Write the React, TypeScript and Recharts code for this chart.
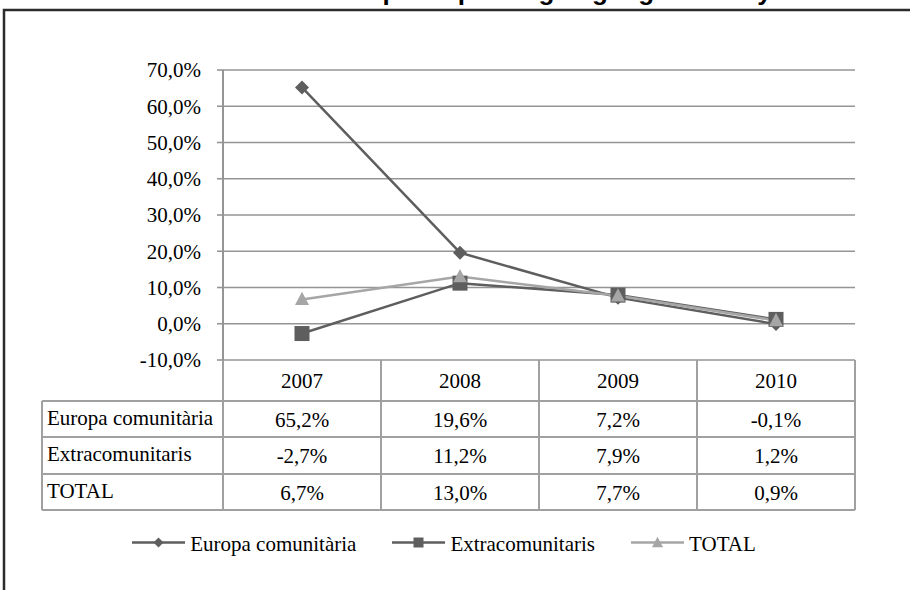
import { LineChart, Line, XAxis, YAxis, CartesianGrid, Legend } from 'recharts';

const years = ['2007', '2008', '2009', '2010'];
const europa = [65.2, 19.6, 7.2, -0.1];
const extra = [-2.7, 11.2, 7.9, 1.2];
const total = [6.7, 13.0, 7.7, 0.9];
const seriesNames = ['Europa comunitària', 'Extracomunitaris', 'TOTAL'];
const yTicks = [-10, 0, 10, 20, 30, 40, 50, 60, 70];

const data = years.map((year, i) => ({
  year,
  europa: europa[i],
  extra: extra[i],
  total: total[i],
}));
const rows = [europa, extra, total];

const W = 910;
const H = 590;
const PLOT_LEFT = 223;
const PLOT_RIGHT = 855;
const COL_W = (PLOT_RIGHT - PLOT_LEFT) / years.length;
const LABEL_LEFT = 42;
const ROW_EDGES = [0, 41, 77, 114, 150];

const SERIF = "'Liberation Serif', 'Times New Roman', serif";
const FONT = 21;
const GRID = '#959595';
const TABLE = '#a0a0a0';
const DARK = '#5e5e5e';
const LIGHT = '#a6a6a6';

const pct = (v: number) => `${v.toFixed(1).replace('.', ',')}%`;

function Diamond({ cx, cy, r = 7, fill = DARK }: any) {
  return <path d={`M${cx},${cy - r}L${cx + r},${cy}L${cx},${cy + r}L${cx - r},${cy}Z`} fill={fill} />;
}
function Square({ cx, cy, s = 15, fill = DARK }: any) {
  return <rect x={cx - s / 2} y={cy - s / 2} width={s} height={s} fill={fill} />;
}
function Triangle({ cx, cy, s = 14, fill = LIGHT }: any) {
  const h = s * 0.95;
  return <path d={`M${cx},${cy - h / 2 - 1}L${cx + s / 2},${cy + h / 2 - 1}L${cx - s / 2},${cy + h / 2 - 1}Z`} fill={fill} />;
}

// each x tick draws one column of the data table below the plot
function TableColumn(props: any) {
  const { x, y, payload } = props;
  const i = years.indexOf(String(payload.value));
  const top = y;
  const left = x - COL_W / 2;
  const right = x + COL_W / 2;
  const line = { stroke: TABLE, strokeWidth: 2 };
  return (
    <g>
      <line x1={left} x2={left} y1={top} y2={top + 150} {...line} />
      {i === years.length - 1 && <line x1={right} x2={right} y1={top} y2={top + 150} {...line} />}
      {ROW_EDGES.slice(1).map((e) => (
        <line key={e} x1={i === 0 ? LABEL_LEFT : left} x2={right} y1={top + e} y2={top + e} {...line} />
      ))}
      {i === 0 && <line x1={LABEL_LEFT} x2={LABEL_LEFT} y1={top + 41} y2={top + 150} {...line} />}
      <text x={x} y={top + 28} textAnchor="middle" fontFamily={SERIF} fontSize={FONT} fill="#000">
        {years[i]}
      </text>
      {rows.map((r, k) => (
        <text key={k} x={x} y={top + 67 + k * 36.3} textAnchor="middle" fontFamily={SERIF} fontSize={FONT} fill="#000">
          {pct(r[i])}
        </text>
      ))}
      {i === 0 &&
        seriesNames.map((n, k) => (
          <text key={n} x={LABEL_LEFT + 5} y={top + 65 + k * 36.3} fontFamily={SERIF} fontSize={FONT} fill="#000">
            {n}
          </text>
        ))}
    </g>
  );
}

function LegendIcon({ k }: { k: number }) {
  const color = k === 2 ? LIGHT : DARK;
  return (
    <svg width={53} height={24} style={{ display: 'block' }}>
      <line x1={0} x2={53} y1={10.5} y2={10.5} stroke={color} strokeWidth={2.5} />
      {k === 0 && <Diamond cx={26.5} cy={10.5} r={5} />}
      {k === 1 && <Square cx={26.5} cy={10.5} s={10} />}
      {k === 2 && <Triangle cx={26.5} cy={11} s={11} />}
    </svg>
  );
}

function LegendContent() {
  return (
    <div style={{ display: 'flex', justifyContent: 'center', gap: 36, fontFamily: SERIF, fontSize: FONT, lineHeight: '24px' }}>
      {seriesNames.map((n, k) => (
        <div key={n} style={{ display: 'flex', alignItems: 'flex-start' }}>
          <LegendIcon k={k} />
          <span style={{ marginLeft: 5, color: '#000' }}>{n}</span>
        </div>
      ))}
    </div>
  );
}

export default function App() {
  return (
    <div style={{ position: 'absolute', left: 0, top: 0, width: W, height: H, background: '#fff' }}>
      <svg width={W} height={H} style={{ position: 'absolute', left: 0, top: 0 }}>
        {/* title sits above the picture's top edge, as in the source image */}
        <text x={548} y={-0.5} textAnchor="middle" fontFamily="'Liberation Sans', Arial, sans-serif" fontWeight="bold" fontSize={26}>
          Variació de l'ocupació per origen geogràfic. Anys 2007-2010
        </text>
        <path d="M4,590L4,10L910,10" fill="none" stroke="#2b2b2b" strokeWidth={2.5} />
      </svg>
      <div style={{ position: 'absolute', left: 0, top: 0 }}>
        <LineChart width={W} height={H} data={data} margin={{ top: 70, right: W - PLOT_RIGHT, left: 0, bottom: 80 }}>
          <CartesianGrid horizontal vertical={false} stroke={GRID} strokeWidth={1.6} />
          <XAxis
            dataKey="year"
            scale="band"
            height={150}
            axisLine={false}
            tickLine={false}
            tickSize={0}
            tickMargin={0}
            interval={0}
            tick={<TableColumn />}
          />
          <YAxis
            width={PLOT_LEFT}
            domain={[-10, 70]}
            ticks={yTicks}
            tickFormatter={pct}
            axisLine={{ stroke: GRID, strokeWidth: 2 }}
            tickLine={{ stroke: GRID, strokeWidth: 1.6 }}
            tickSize={6}
            tickMargin={16}
            tick={{ fill: '#000', fontFamily: SERIF, fontSize: FONT }}
          />
          <Line
            dataKey="europa"
            name={seriesNames[0]}
            stroke={DARK}
            strokeWidth={2.5}
            isAnimationActive={false}
            dot={(p: any) => <Diamond key={`e${p.index}`} cx={p.cx} cy={p.cy} />}
          />
          <Line
            dataKey="extra"
            name={seriesNames[1]}
            stroke={DARK}
            strokeWidth={2.5}
            isAnimationActive={false}
            dot={(p: any) => <Square key={`x${p.index}`} cx={p.cx} cy={p.cy} />}
          />
          <Line
            dataKey="total"
            name={seriesNames[2]}
            stroke={LIGHT}
            strokeWidth={2.5}
            isAnimationActive={false}
            dot={(p: any) => <Triangle key={`t${p.index}`} cx={p.cx} cy={p.cy} />}
          />
          <Legend
            verticalAlign="middle"
            layout="horizontal"
            content={<LegendContent />}
            wrapperStyle={{ top: 532, left: 0, width: 888 }}
          />
        </LineChart>
      </div>
    </div>
  );
}
